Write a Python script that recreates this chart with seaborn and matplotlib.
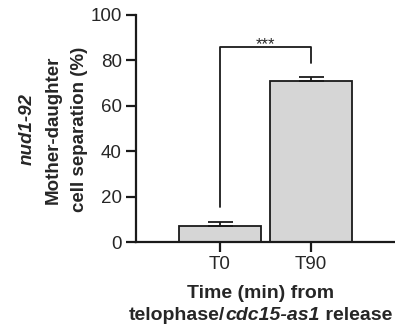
import pandas as pd
import seaborn as sns
import matplotlib.pyplot as plt

# values
timepoints = ["T0", "T90"]
separation = [7.2, 70.8]
sem = [1.7, 1.7]
bracket_low = [15.5, 79.0]
bracket_top = 85.8
stars = "***"

sns.set_style("ticks")
plt.rcParams["font.family"] = ["Liberation Sans", "DejaVu Sans"]

df = pd.DataFrame({"Time": timepoints, "Separation": separation})

fig = plt.figure(figsize=(3.95, 3.32), dpi=100)
ax = fig.add_axes([0.344, 0.271, 0.656, 0.684])

sns.barplot(x="Time", y="Separation", data=df, color="#d6d6d6",
            edgecolor="#1a1a1a", linewidth=1.3, width=0.9, errorbar=None,
            saturation=1, ax=ax)
ax.errorbar(range(len(timepoints)), separation, yerr=[[0, 0], sem],
            fmt="none", ecolor="#1a1a1a", elinewidth=1.3, capsize=9,
            capthick=1.3)

# significance bracket
ax.plot([0, 0, 1, 1], [bracket_low[0], bracket_top, bracket_top, bracket_low[1]],
        color="#1a1a1a", lw=1.3, clip_on=False)
ax.text(0.5, bracket_top - 2.0, stars, ha="center", va="bottom", fontsize=12)

ax.set_xlim(-0.92, 1.92)
ax.set_ylim(0, 100)
ax.set_yticks([0, 20, 40, 60, 80, 100])
sns.despine(ax=ax)
for s in ["left", "bottom"]:
    ax.spines[s].set_linewidth(1.6)
    ax.spines[s].set_color("#1a1a1a")
ax.tick_params(width=1.6, length=7, labelsize=13.5, color="#1a1a1a", pad=3)
ax.set_xlabel("")
ax.set_ylabel("")

# axis titles
fig.text(0.135, 0.61, "Mother-daughter", rotation=90, ha="center", va="center",
         fontsize=13.5, fontweight="bold")
fig.text(0.2, 0.61, "cell separation (%)", rotation=90, ha="center", va="center",
         fontsize=13.5, fontweight="bold")
fig.text(0.068, 0.61, "nud1-92", rotation=90, ha="center", va="center",
         fontsize=13.5, fontweight="bold", style="italic")

fig.text(0.66, 0.117, "Time (min) from", ha="center", va="center",
         fontsize=14, fontweight="bold")

# second line with italic strain name
parts = [("telophase/", "normal"), ("cdc15-as1", "italic"), (" release", "normal")]
texts = [fig.text(0, 0.05, p, ha="left", va="center", fontsize=14,
                  fontweight="bold", style=st) for p, st in parts]
fig.canvas.draw()
r = fig.canvas.get_renderer()
widths = [t.get_window_extent(r).width / fig.bbox.width for t in texts]
x = 0.66 - sum(widths) / 2
for t, w in zip(texts, widths):
    t.set_x(x)
    x += w

fig.savefig("out.png", dpi=100)
